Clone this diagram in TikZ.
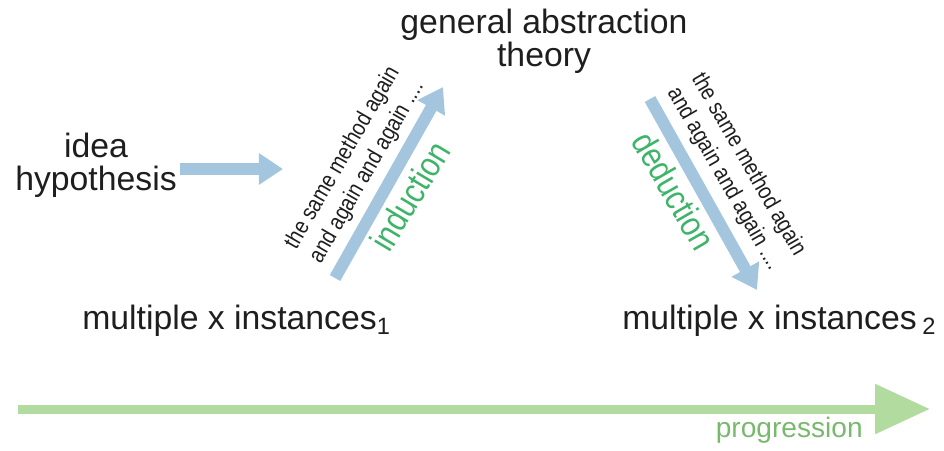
\documentclass[tikz,border=0pt]{standalone}
\usepackage{fontspec}
\setmainfont{Liberation Sans}
\newfontfamily\narrowfont[FakeStretch=0.85]{Liberation Sans}
\usetikzlibrary{arrows.meta}
\definecolor{flowblue}{RGB}{163,198,222}
\definecolor{flowgreen}{RGB}{178,219,160}
\definecolor{labelgreen}{RGB}{62,180,105}
\definecolor{progressgreen}{RGB}{120,185,110}
\definecolor{textgray}{RGB}{30,30,30}
\tikzset{
    bigtext/.style={text=textgray, font=\fontsize{24}{23}\selectfont, inner sep=0pt, align=center},
    steptext/.style={text=textgray, font=\narrowfont\fontsize{16.5}{20}\selectfont, inner sep=0pt, align=center},
    waytext/.style={text=labelgreen, font=\narrowfont\fontsize{25}{25}\selectfont, inner sep=0pt},
    blueflow/.style={draw=flowblue, line width=0.3cm, -{Triangle[width=0.75cm, length=0.6cm]}},
}
\begin{document}
\begin{tikzpicture}[x=0.025cm, y=-0.025cm]
    \useasboundingbox (0,0) rectangle (944,450);

    % labels
    \node[bigtext, anchor=base] (theory) at (544,66) {general abstraction\\theory};
    \node[bigtext, anchor=base] (idea) at (96,190) {idea\\hypothesis};
    \node[bigtext, anchor=base west] (inst1) at (82,329) {multiple x instances\textsubscript{1}};
    \node[bigtext, anchor=base west] (inst2) at (622,329) {multiple x instances\,\textsubscript{2}};

    % arrows
    \coordinate (idea-out) at (180,169);
    \coordinate (idea-in) at (283,169);
    \draw[blueflow] (idea-out) -- (idea-in);

    \coordinate (ind-from) at (335,278);
    \coordinate (ind-to) at (443,87);
    \draw[blueflow] (ind-from) -- (ind-to);

    \coordinate (ded-from) at (650,99);
    \coordinate (ded-to) at (757,290);
    \draw[blueflow] (ded-from) -- (ded-to);

    % rotated texts
    \node[steptext, rotate=60] (again1) at (355,165) {the same method again\\and again and again ....};
    \node[steptext, rotate=-60] (again2) at (736,172) {the same method again\\and again and again ....};
    \node[waytext, rotate=59] (ind) at (410,196) {induction};
    \node[waytext, rotate=-60] (ded) at (674,191) {deduction};

    % progression
    \coordinate (prog-from) at (18,409);
    \coordinate (prog-to) at (930,409);
    \draw[draw=flowgreen, line width=0.225cm, -{Triangle[width=1.2cm, length=1.375cm]}] (prog-from) -- (prog-to);
    \node[text=progressgreen, font=\fontsize{20}{20}\selectfont, inner sep=0pt, anchor=base east] (prog) at (863,437) {progression};

\end{tikzpicture}
\end{document}
